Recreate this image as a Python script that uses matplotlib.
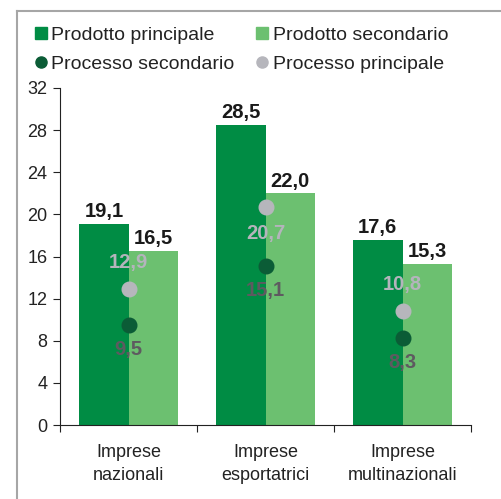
import matplotlib.pyplot as plt
from matplotlib.lines import Line2D
import numpy as np

plt.rcParams['font.family'] = ['Liberation Sans', 'DejaVu Sans']

categories = ['Imprese\nnazionali', 'Imprese\nesportatrici', 'Imprese\nmultinazionali']
prodotto_principale = [19.1, 28.5, 17.6]
prodotto_secondario = [16.5, 22.0, 15.3]
processo_secondario = [9.5, 15.1, 8.3]
processo_principale = [12.9, 20.7, 10.8]

# which side of the dot the value sits on (+1 above, -1 below)
lab_side_princ = [1, -1, 1]
lab_side_sec = [-1, -1, -1]

c_dark = '#008c44'
c_light = '#6cc070'
c_dot_dark = '#0b5c36'
c_dot_grey = '#b6b6bc'
c_text = '#222222'

fig = plt.figure(figsize=(5.01, 4.99), dpi=100)
ax = fig.add_axes([60 / 501, 74 / 499, 411 / 501, 337 / 499])

x = np.arange(len(categories))
w = 0.36
ax.bar(x - w / 2, prodotto_principale, w, color=c_dark, zorder=2)
ax.bar(x + w / 2, prodotto_secondario, w, color=c_light, zorder=2)

def fmt(v):
    return f'{v:.1f}'.replace('.', ',')

for xi, v in zip(x - w / 2, prodotto_principale):
    ax.annotate(fmt(v), (xi, v), xytext=(0, 2), textcoords='offset points',
                ha='center', va='bottom', fontsize=14.5, fontweight='bold', color='#1a1a1a')
for xi, v in zip(x + w / 2, prodotto_secondario):
    ax.annotate(fmt(v), (xi, v), xytext=(0, 2), textcoords='offset points',
                ha='center', va='bottom', fontsize=14.5, fontweight='bold', color='#1a1a1a')

ax.plot(x, processo_secondario, 'o', color=c_dot_dark, markersize=10.5, zorder=3)
ax.plot(x, processo_principale, 'o', color=c_dot_grey, markersize=10.5, zorder=3)

for xi, v, s in zip(x, processo_principale, lab_side_princ):
    ax.annotate(fmt(v), (xi, v), xytext=(0, 19 * s), textcoords='offset points',
                ha='center', va='center', fontsize=14.5, fontweight='bold', color='#b4b4bc', zorder=4)
for xi, v, s in zip(x, processo_secondario, lab_side_sec):
    ax.annotate(fmt(v), (xi, v), xytext=(0, 18 * s), textcoords='offset points',
                ha='center', va='center', fontsize=14.5, fontweight='bold', color='#5e5a60', zorder=4)

ax.set_xlim(-0.5, 2.5)
ax.set_ylim(0, 32)
ax.set_yticks(range(0, 33, 4))
ax.set_xticks([-0.5, 0.5, 1.5, 2.5])
ax.set_xticklabels([])
ax.set_xticks(x, minor=True)
ax.set_xticklabels(categories, minor=True, fontsize=13, color=c_text, linespacing=1.4)
ax.tick_params(axis='x', which='minor', length=0, pad=14)
ax.tick_params(axis='x', which='major', length=5, direction='out', color=c_text)
ax.tick_params(axis='y', length=5, direction='out', labelsize=13, labelcolor=c_text, color=c_text, pad=4)
for s in ('top', 'right'):
    ax.spines[s].set_visible(False)
for s in ('left', 'bottom'):
    ax.spines[s].set_color(c_text)

handles = [
    Line2D([], [], marker='s', linestyle='none', color=c_dark, markersize=8, label='Prodotto principale'),
    Line2D([], [], marker='o', linestyle='none', color=c_dot_dark, markersize=8, label='Processo secondario'),
    Line2D([], [], marker='s', linestyle='none', color=c_light, markersize=8, label='Prodotto secondario'),
    Line2D([], [], marker='o', linestyle='none', color=c_dot_grey, markersize=8, label='Processo principale'),
]
fig.legend(handles=handles, ncol=2, loc='upper left', bbox_to_anchor=(33 / 501, 1 - 26 / 499),
           frameon=False, fontsize=14, handletextpad=0.15, handlelength=0.8, columnspacing=1.0,
           labelspacing=0.6, borderaxespad=0, borderpad=0, labelcolor=c_text)

# outer grey frame (only left and top edges fall inside the picture)
fx = 16.5 / 501
fy = 1 - 10.5 / 499
fig.add_artist(Line2D([fx, fx], [0, fy], transform=fig.transFigure, color='#a6a6a6', linewidth=1.5))
fig.add_artist(Line2D([fx, 1], [fy, fy], transform=fig.transFigure, color='#a6a6a6', linewidth=1.5))

fig.savefig('out.png', dpi=100)
